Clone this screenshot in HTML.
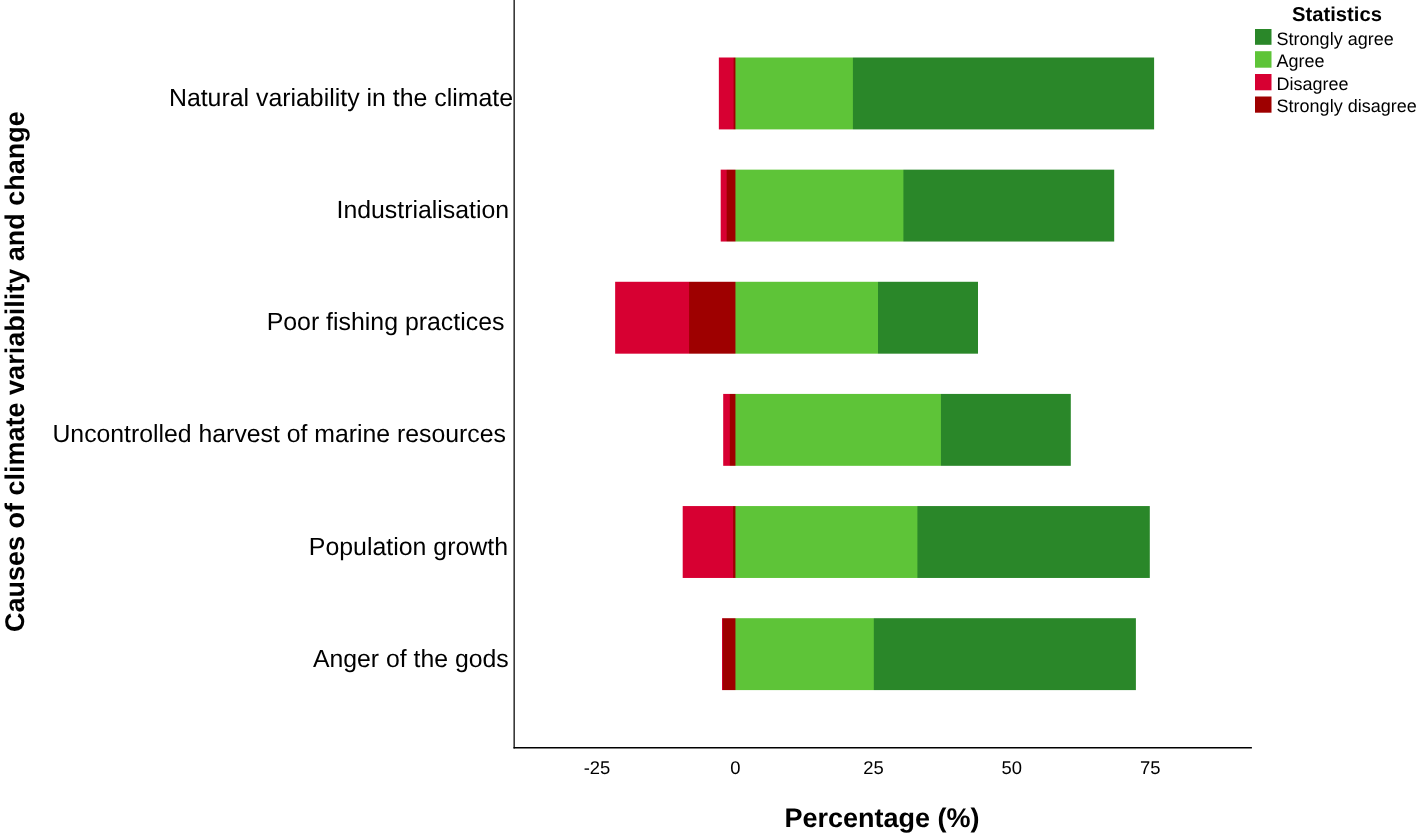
<!DOCTYPE html>
<html><head><meta charset="utf-8"><style>
html,body{margin:0;padding:0;background:#fff;}
body{width:1417px;height:837px;overflow:hidden;}
svg{display:block;will-change:transform;}
text{font-family:"Liberation Sans",sans-serif;fill:#000;text-rendering:geometricPrecision;}
</style></head><body>
<svg width="1417" height="837" viewBox="0 0 1417 837">
<rect x="0" y="0" width="1417" height="837" fill="#fff"/>

<defs><linearGradient id="g0" gradientUnits="userSpaceOnUse" x1="718.85" y1="0" x2="1154.10" y2="0"><stop offset="0" stop-color="#D70032"/><stop offset="0.03274" stop-color="#D70032"/><stop offset="0.03504" stop-color="#9E0000"/><stop offset="0.03699" stop-color="#9E0000"/><stop offset="0.03929" stop-color="#5EC438"/><stop offset="0.30684" stop-color="#5EC438"/><stop offset="0.30913" stop-color="#2A8729"/><stop offset="1.00000" stop-color="#2A8729"/></linearGradient><linearGradient id="g1" gradientUnits="userSpaceOnUse" x1="720.70" y1="0" x2="1114.20" y2="0"><stop offset="0" stop-color="#D70032"/><stop offset="0.01385" stop-color="#D70032"/><stop offset="0.01639" stop-color="#9E0000"/><stop offset="0.03621" stop-color="#9E0000"/><stop offset="0.03875" stop-color="#5EC438"/><stop offset="0.46302" stop-color="#5EC438"/><stop offset="0.46557" stop-color="#2A8729"/><stop offset="1.00000" stop-color="#2A8729"/></linearGradient><linearGradient id="g2" gradientUnits="userSpaceOnUse" x1="615.15" y1="0" x2="978.00" y2="0"><stop offset="0" stop-color="#D70032"/><stop offset="0.20243" stop-color="#D70032"/><stop offset="0.20518" stop-color="#9E0000"/><stop offset="0.33016" stop-color="#9E0000"/><stop offset="0.33292" stop-color="#5EC438"/><stop offset="0.72303" stop-color="#5EC438"/><stop offset="0.72578" stop-color="#2A8729"/><stop offset="1.00000" stop-color="#2A8729"/></linearGradient><linearGradient id="g3" gradientUnits="userSpaceOnUse" x1="723.20" y1="0" x2="1070.80" y2="0"><stop offset="0" stop-color="#D70032"/><stop offset="0.01755" stop-color="#D70032"/><stop offset="0.02043" stop-color="#9E0000"/><stop offset="0.03380" stop-color="#9E0000"/><stop offset="0.03668" stop-color="#5EC438"/><stop offset="0.62500" stop-color="#5EC438"/><stop offset="0.62788" stop-color="#2A8729"/><stop offset="1.00000" stop-color="#2A8729"/></linearGradient><linearGradient id="g4" gradientUnits="userSpaceOnUse" x1="682.70" y1="0" x2="1149.80" y2="0"><stop offset="0" stop-color="#D70032"/><stop offset="0.10683" stop-color="#D70032"/><stop offset="0.10897" stop-color="#9E0000"/><stop offset="0.11186" stop-color="#9E0000"/><stop offset="0.11400" stop-color="#5EC438"/><stop offset="0.50139" stop-color="#5EC438"/><stop offset="0.50353" stop-color="#2A8729"/><stop offset="1.00000" stop-color="#2A8729"/></linearGradient><linearGradient id="g5" gradientUnits="userSpaceOnUse" x1="722.00" y1="0" x2="1135.90" y2="0"><stop offset="0" stop-color="#D70032"/><stop offset="0.00072" stop-color="#D70032"/><stop offset="0.00314" stop-color="#9E0000"/><stop offset="0.03129" stop-color="#9E0000"/><stop offset="0.03370" stop-color="#5EC438"/><stop offset="0.36555" stop-color="#5EC438"/><stop offset="0.36796" stop-color="#2A8729"/><stop offset="1.00000" stop-color="#2A8729"/></linearGradient></defs>
<rect x="718.85" y="57.50" width="435.25" height="71.90" fill="url(#g0)"/>
<rect x="720.70" y="169.64" width="393.50" height="71.90" fill="url(#g1)"/>
<rect x="615.15" y="281.78" width="362.85" height="71.90" fill="url(#g2)"/>
<rect x="723.20" y="393.92" width="347.60" height="71.90" fill="url(#g3)"/>
<rect x="682.70" y="506.06" width="467.10" height="71.90" fill="url(#g4)"/>
<rect x="722.00" y="618.20" width="413.90" height="71.90" fill="url(#g5)"/>
<text x="168.95" y="105.99" font-size="24.86">Natural variability in the climate</text>
<text x="336.50" y="218.13" font-size="24.85">Industrialisation</text>
<text x="266.65" y="330.27" font-size="24.89">Poor fishing practices</text>
<text x="52.45" y="442.41" font-size="24.81">Uncontrolled harvest of marine resources</text>
<text x="308.80" y="554.55" font-size="24.9">Population growth</text>
<text x="312.90" y="666.69" font-size="24.8">Anger of the gods</text>
<line x1="514.15" y1="0" x2="514.15" y2="748.5" stroke="#000" stroke-width="1.25"/>
<line x1="513.525" y1="747.75" x2="1251.9" y2="747.75" stroke="#000" stroke-width="1.5"/>
<text x="596.95" y="774.0" font-size="18.4" text-anchor="middle">-25</text>
<text x="735.25" y="774.0" font-size="18.4" text-anchor="middle">0</text>
<text x="873.55" y="774.0" font-size="18.4" text-anchor="middle">25</text>
<text x="1011.85" y="774.0" font-size="18.4" text-anchor="middle">50</text>
<text x="1150.15" y="774.0" font-size="18.4" text-anchor="middle">75</text>
<text x="784.5" y="826.7" font-size="27" font-weight="bold">Percentage (%)</text>
<text transform="translate(23.7,632.0) rotate(-90)" x="0" y="0" font-size="27" font-weight="bold">Causes of climate variability and change</text>
<text x="1292.1" y="20.6" font-size="20.2" font-weight="bold">Statistics</text>
<rect x="1255.0" y="29.0" width="16.5" height="15.80" fill="#2A8729"/>
<text x="1276.6" y="44.8" font-size="18">Strongly agree</text>
<rect x="1255.0" y="51.2" width="16.5" height="16.50" fill="#5EC438"/>
<text x="1276.6" y="67.4" font-size="18">Agree</text>
<rect x="1255.0" y="74.0" width="16.5" height="16.30" fill="#D70032"/>
<text x="1276.6" y="90.3" font-size="18">Disagree</text>
<rect x="1255.0" y="96.5" width="16.5" height="16.20" fill="#9E0000"/>
<text x="1276.6" y="112.4" font-size="18">Strongly disagree</text>
</svg>
</body></html>
